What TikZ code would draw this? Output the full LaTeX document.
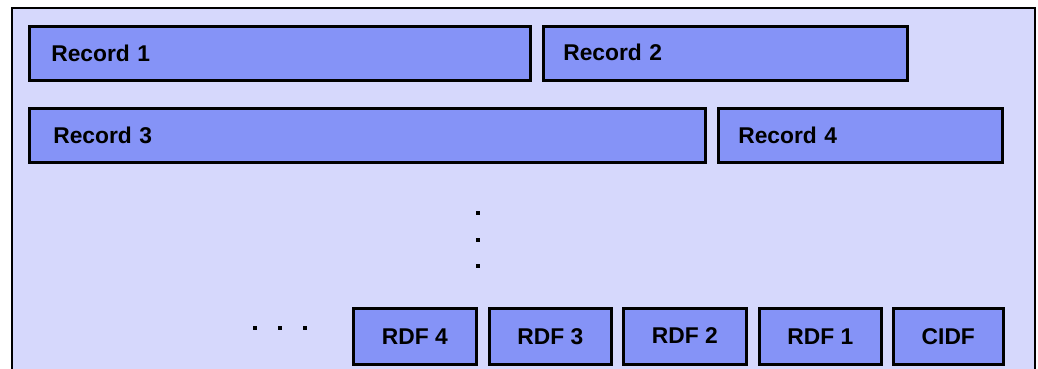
\documentclass[tikz,border=0pt]{standalone}
\usepackage{fontspec}
\setmainfont{Liberation Sans}
\definecolor{panel}{RGB}{214,216,252}
\definecolor{boxblue}{RGB}{133,147,247}
\begin{document}
\begin{tikzpicture}[x=1pt,y=1pt,
  rec/.style={draw=black, line width=2.6pt, fill=boxblue, anchor=north west,
    inner xsep=0pt, inner ysep=0pt, font=\fontsize{22.8}{24}\selectfont\bfseries},
  lefttext/.style={align=left, text width=#1},
  dotsq/.style={fill=black}]
\useasboundingbox (0,0) rectangle (1038,-369);
\fill[white] (0,0) rectangle (1038,-369);
\fill[panel] (12,-8) rectangle (1035,-369);
\draw[line width=1.8pt] (12,-369) -- (12,-8) -- (1035,-8) -- (1035,-369);
% records
\node[rec, minimum width=501pt, minimum height=54pt, lefttext=457pt] (r1) at (28,-25) {Record 1};
\node[rec, minimum width=364pt, minimum height=54pt, lefttext=324pt] (r2) at (542,-25) {\raisebox{3pt}{Record 2}};
\node[rec, minimum width=676pt, minimum height=54pt, lefttext=628pt] (r3) at (28,-107) {Record 3};
\node[rec, minimum width=284pt, minimum height=54pt, lefttext=244pt] (r4) at (717,-107) {\raisebox{1pt}{Record 4}};
% fields
\node[rec, minimum width=123pt, minimum height=56pt] (f4) at (352,-307) {RDF 4};
\node[rec, minimum width=122pt, minimum height=56pt] (f3) at (488,-307) {\raisebox{-3pt}{RDF 3}};
\node[rec, minimum width=123pt, minimum height=56pt] (f2) at (622,-307) {\raisebox{1pt}{RDF 2}};
\node[rec, minimum width=122pt, minimum height=56pt] (f1) at (758,-307) {\raisebox{-1pt}{RDF 1}};
\node[rec, minimum width=110pt, minimum height=56pt] (cidf) at (892,-307) {\raisebox{-2pt}{CIDF}};
% dots
\foreach \yy in {213,240,266} \fill[dotsq] (476,-\yy+2) rectangle (480,-\yy-2);
\foreach \xx in {255,280,305} \fill[dotsq] (\xx-2,-326) rectangle (\xx+2,-330);
\end{tikzpicture}
\end{document}
